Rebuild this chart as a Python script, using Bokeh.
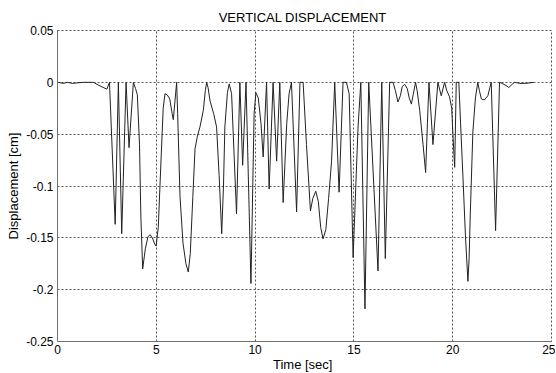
from bokeh.plotting import figure
from bokeh.models import ColumnDataSource, Range1d, FixedTicker, PrintfTickFormatter
from bokeh.embed import file_html
from bokeh.resources import INLINE

# Time [sec] and vertical displacement [cm]
time_sec = [0.00, 0.30, 0.50, 0.75, 1.00, 1.30, 1.82, 2.10, 2.50, 2.63,
            2.92, 3.08, 3.25, 3.47, 3.62, 3.84, 3.95, 4.04, 4.15, 4.22,
            4.31, 4.45, 4.58, 4.68, 4.80, 4.92, 4.99, 5.10, 5.25, 5.35,
            5.44, 5.55, 5.68, 5.80, 5.86, 6.03, 6.08, 6.20, 6.35, 6.50,
            6.62, 6.72, 6.85, 6.96, 7.08, 7.21, 7.38, 7.48, 7.55, 7.62,
            7.72, 7.90, 8.05, 8.18, 8.31, 8.40, 8.47, 8.60, 8.69, 8.81,
            9.06, 9.23, 9.37, 9.54, 9.79, 9.95, 10.04, 10.16, 10.30, 10.41,
            10.58, 10.71, 10.91, 11.09, 11.25, 11.42, 11.60, 11.72, 11.84, 12.10,
            12.27, 12.43, 12.60, 12.80, 12.92, 13.07, 13.20, 13.32, 13.44, 13.58,
            13.72, 13.87, 14.03, 14.25, 14.45, 14.62, 14.76, 14.96, 15.21, 15.35,
            15.56, 15.75, 16.22, 16.41, 16.59, 16.81, 16.98, 17.10, 17.23, 17.35,
            17.45, 17.57, 17.70, 17.80, 17.91, 18.00, 18.12, 18.20, 18.33, 18.50,
            18.63, 18.72, 18.80, 19.00, 19.25, 19.42, 19.59, 19.70, 19.84, 19.95,
            20.01, 20.10, 20.18, 20.31, 20.40, 20.52, 20.65, 20.77, 20.83, 20.89,
            21.02, 21.15, 21.27, 21.35, 21.45, 21.60, 21.78, 21.88, 21.95, 22.17,
            22.37, 22.50, 22.70, 22.84, 23.00, 23.13, 23.40, 23.70, 24.10]
displacement_cm = [0.0, -0.001, 0.0, -0.001, -0.0005, 0.0, 0.0, -0.003, -0.0066, 0.0,
                   -0.137, 0.0, -0.146, 0.0, -0.063, 0.0, -0.006, -0.012, -0.060, -0.130,
                   -0.180, -0.160, -0.149, -0.147, -0.150, -0.156, -0.158, -0.140, -0.070, -0.025,
                   -0.011, -0.012, -0.016, -0.030, -0.036, 0.0, -0.030, -0.110, -0.155, -0.175,
                   -0.183, -0.165, -0.110, -0.064, -0.052, -0.043, -0.027, -0.008, 0.0, -0.005,
                   -0.018, -0.030, -0.043, -0.090, -0.146, -0.100, -0.043, -0.010, -0.0015, -0.011,
                   -0.127, 0.0, -0.080, 0.0, -0.194, -0.030, -0.010, -0.015, -0.040, -0.072,
                   0.0, -0.103, 0.0, -0.076, 0.0, -0.116, -0.040, -0.011, 0.0, -0.125,
                   0.0, 0.0, -0.060, -0.124, -0.112, -0.105, -0.115, -0.140, -0.151, -0.142,
                   -0.112, -0.076, 0.0, -0.106, 0.0, 0.0, -0.011, -0.169, -0.043, 0.0,
                   -0.2185, 0.0, -0.182, 0.0, -0.170, 0.0, 0.0, -0.008, -0.019, -0.013,
                   -0.004, -0.002, -0.006, -0.015, -0.021, -0.012, 0.0, -0.008, -0.027, -0.060,
                   -0.087, -0.040, 0.0, -0.060, 0.0, -0.013, 0.0, -0.008, -0.014, -0.025,
                   -0.050, -0.082, 0.0, 0.0, -0.040, -0.092, -0.150, -0.192, -0.170, -0.127,
                   -0.048, -0.015, 0.0, -0.008, -0.016, -0.017, -0.013, -0.005, 0.0, -0.143,
                   0.0, -0.001, -0.003, -0.005, -0.002, 0.0, -0.001, -0.001, 0.0]

x_ticks = [0, 5, 10, 15, 20, 25]
y_ticks = [-0.25, -0.2, -0.15, -0.1, -0.05, 0, 0.05]

FONT = "Liberation Sans"

source = ColumnDataSource(data=dict(t=time_sec, d=displacement_cm))

p = figure(frame_width=494, frame_height=311,
           min_border_left=57, min_border_right=4,
           min_border_top=30, min_border_bottom=32,
           x_range=Range1d(0, 25), y_range=Range1d(-0.25, 0.05),
           output_backend="svg", toolbar_location=None,
           title="VERTICAL  DISPLACEMENT")

p.line("t", "d", source=source, line_color="#222222", line_width=1)

p.title.align = "center"
p.title.text_font = FONT
p.title.text_font_size = "13px"
p.title.text_font_style = "normal"
p.title.text_color = "#000000"
p.title.standoff = 11

for ax, ticks in ((p.xaxis[0], x_ticks), (p.yaxis[0], y_ticks)):
    ax.ticker = FixedTicker(ticks=ticks)
    ax.major_tick_out = 0
    ax.major_tick_in = 0
    ax.minor_tick_out = 0
    ax.minor_tick_in = 0
    ax.axis_line_color = "#707070"
    ax.axis_line_width = 1
    ax.major_label_text_font = FONT
    ax.major_label_text_font_size = "12px"
    ax.major_label_text_color = "#000000"
    ax.axis_label_text_font = FONT
    ax.axis_label_text_font_size = "13px"
    ax.axis_label_text_font_style = "normal"
    ax.axis_label_text_color = "#000000"

p.xaxis.axis_label = "Time  [sec]"
p.yaxis.axis_label = "Displacement [cm]"
p.xaxis.major_label_standoff = 3
p.xaxis.axis_label_standoff = 0
p.yaxis.major_label_standoff = 4
p.yaxis.axis_label_standoff = 2
p.yaxis.formatter = PrintfTickFormatter(format="%g")
p.yaxis.major_label_orientation = "horizontal"

for g, ticks in ((p.xgrid[0], x_ticks), (p.ygrid[0], y_ticks)):
    g.ticker = FixedTicker(ticks=ticks)
    g.grid_line_color = "#555555"
    g.grid_line_dash = "2 2"
    g.grid_line_width = 1

p.outline_line_color = "#555555"
p.outline_line_dash = "2 2"
p.outline_line_width = 1
p.background_fill_color = "white"
p.border_fill_color = "white"

open("out.html", "w").write(file_html(p, INLINE))
